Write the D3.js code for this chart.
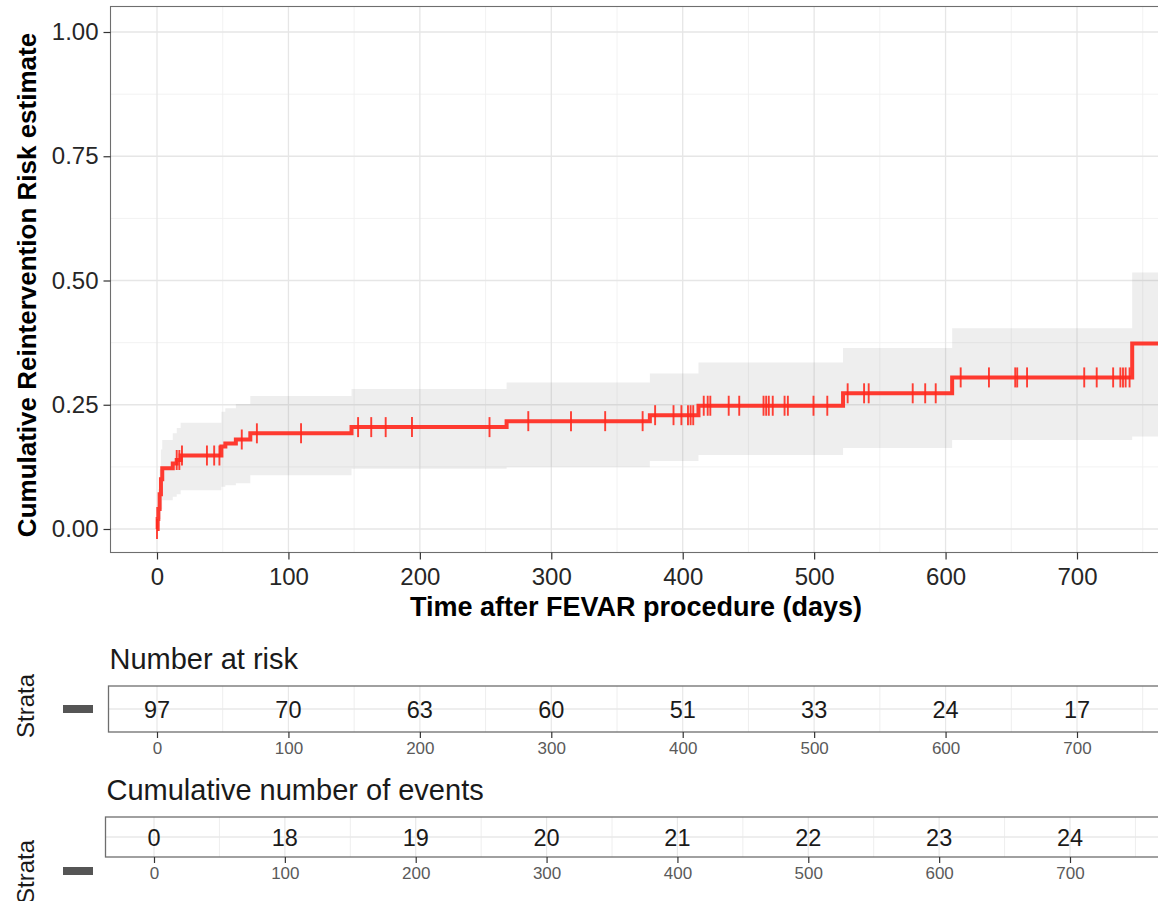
<!DOCTYPE html>
<html>
<head>
<meta charset="utf-8">
<script src="https://cdn.jsdelivr.net/npm/d3@7"></script>
<style>
  body { margin: 0; background: #fff; }
  svg { display: block; font-family: "Liberation Sans", Arial, Helvetica, sans-serif; }
</style>
</head>
<body>
<script>
const width = 1158;
const height = 901;

// Kaplan-Meier steps (cumulative risk = 1 - S)
const stepDays  = [0, 0.5, 1, 2, 3, 4, 12, 15, 18, 49, 52, 60, 71, 148, 266, 375, 412, 522, 605, 742];
const riskEst   = [0, 0.02, 0.04, 0.07, 0.10, 0.122, 0.132, 0.139, 0.148, 0.166, 0.172, 0.180, 0.1925, 0.205, 0.217, 0.229, 0.248, 0.273, 0.305, 0.373];
const riskLower = [0, 0.0, 0.005, 0.02, 0.04, 0.058, 0.065, 0.07, 0.078, 0.085, 0.088, 0.092, 0.108, 0.121, 0.124, 0.137, 0.149, 0.163, 0.179, 0.186];
const riskUpper = [0, 0.05, 0.08, 0.12, 0.16, 0.179, 0.1925, 0.203, 0.214, 0.236, 0.243, 0.2515, 0.2676, 0.2817, 0.295, 0.313, 0.335, 0.364, 0.404, 0.516];

// censored observations (days)
const censorDays = [0, 15, 17, 19, 38, 43.5, 47.5, 64.5, 76, 109.6, 153, 163, 174, 194, 253, 282.5, 315, 341, 369.5,
  379, 393, 399, 404, 406, 408, 416, 419, 421, 435, 443, 461.5, 463.5, 465.5, 468.5, 477.5, 480, 499.5, 510,
  525.5, 538, 541.5, 575, 584.5, 592.5, 611.5, 633, 653, 654.5, 662, 705.5, 715, 727.5, 733, 735, 737, 740];

const tableTimes = [0, 100, 200, 300, 400, 500, 600, 700];
const nAtRisk = [97, 70, 63, 60, 51, 33, 24, 17];
const cumEvents = [0, 18, 19, 20, 21, 22, 23, 24];

const yTicks = [0, 0.25, 0.5, 0.75, 1];
const yMinor = [0.125, 0.375, 0.625, 0.875];
const xMinor = [50, 150, 250, 350, 450, 550, 650, 750];

const red = "#ff2a1f";
const panel = {left: 110.5, top: 6.5, right: 1162, bottom: 552.5};

const x = d3.scaleLinear().domain([0, 700]).range([157, 1077]);
const y = d3.scaleLinear().domain([0, 1]).range([529, 32]);

const svg = d3.select('body').append('svg').attr('width', width).attr('height', height);

svg.append('clipPath').attr('id', 'clipMain')
  .append('rect').attr('x', panel.left).attr('y', panel.top)
  .attr('width', panel.right - panel.left).attr('height', panel.bottom - panel.top);

const grid = svg.append('g').attr('clip-path', 'url(#clipMain)');
grid.selectAll('.xmin').data(xMinor).enter().append('line')
  .attr('x1', d => x(d)).attr('x2', d => x(d)).attr('y1', panel.top).attr('y2', panel.bottom)
  .attr('stroke', '#f1f1f1').attr('stroke-width', 0.9);
grid.selectAll('.ymin').data(yMinor).enter().append('line')
  .attr('x1', panel.left).attr('x2', panel.right).attr('y1', d => y(d)).attr('y2', d => y(d))
  .attr('stroke', '#f1f1f1').attr('stroke-width', 0.9);
grid.selectAll('.xmaj').data(tableTimes).enter().append('line')
  .attr('x1', d => x(d)).attr('x2', d => x(d)).attr('y1', panel.top).attr('y2', panel.bottom)
  .attr('stroke', '#e6e6e6').attr('stroke-width', 1.3);
grid.selectAll('.ymaj').data(yTicks).enter().append('line')
  .attr('x1', panel.left).attr('x2', panel.right).attr('y1', d => y(d)).attr('y2', d => y(d))
  .attr('stroke', '#e6e6e6').attr('stroke-width', 1.3);

// survival steps, extended to the right edge of the panel
const steps = stepDays.map((t, i) => ({t: t, est: riskEst[i], lo: riskLower[i], hi: riskUpper[i]}));
const last = steps[steps.length - 1];
steps.push({t: x.invert(panel.right), est: last.est, lo: last.lo, hi: last.hi});

const plot = svg.append('g').attr('clip-path', 'url(#clipMain)');

const area = d3.area().x(d => x(d.t)).y0(d => y(d.lo)).y1(d => y(d.hi)).curve(d3.curveStepAfter);
plot.append('path').datum(steps).attr('d', area)
  .attr('fill', '#8a8a8a').attr('fill-opacity', 0.15);

const line = d3.line().x(d => x(d.t)).y(d => y(d.est)).curve(d3.curveStepAfter);
plot.append('path').datum(steps).attr('d', line)
  .attr('fill', 'none').attr('stroke', red).attr('stroke-width', 4).attr('stroke-opacity', 0.92);

const bis = d3.bisector(d => d).right;
const censorPts = censorDays.map(t => ({t: t, est: riskEst[Math.max(0, bis(stepDays, t) - 1)]}));
plot.selectAll('.cens').data(censorPts).enter().append('line')
  .attr('x1', d => x(d.t)).attr('x2', d => x(d.t))
  .attr('y1', d => y(d.est) - 10).attr('y2', d => y(d.est) + 10)
  .attr('stroke', red).attr('stroke-width', 1.9).attr('stroke-opacity', 0.9);

svg.append('rect').attr('x', panel.left).attr('y', panel.top)
  .attr('width', panel.right - panel.left).attr('height', panel.bottom - panel.top)
  .attr('fill', 'none').attr('stroke', '#6e6e6e').attr('stroke-width', 1.1);

// axes
const yAxis = svg.append('g').attr('transform', `translate(${panel.left},0)`)
  .call(d3.axisLeft(y).tickValues(yTicks).tickFormat(d3.format('.2f')).tickSize(7).tickPadding(5));
const xAxis = svg.append('g').attr('transform', `translate(0,${panel.bottom})`)
  .call(d3.axisBottom(x).tickValues(tableTimes).tickSize(7).tickPadding(8));
[yAxis, xAxis].forEach(a => {
  a.select('.domain').remove();
  a.selectAll('.tick line').attr('stroke', '#333').attr('stroke-width', 1.2);
  a.selectAll('.tick text').attr('fill', '#262626').style('font-size', '24px')
    .style('font-family', '"Liberation Sans", Arial, sans-serif');
});

svg.append('text').attr('x', 636).attr('y', 616)
  .attr('text-anchor', 'middle').style('font-size', '27px').style('font-weight', 'bold')
  .text('Time after FEVAR procedure (days)');
svg.append('text').attr('transform', 'translate(36,285) rotate(-90)')
  .attr('text-anchor', 'middle').style('font-size', '26px').style('font-weight', 'bold')
  .text('Cumulative Reintervention Risk estimate');

// risk tables
function drawTable(o) {
  const g = svg.append('g');
  const xs = d3.scaleLinear().domain([0, 700]).range(o.range);
  const mid = (o.top + o.bottom) / 2;
  g.append('text').attr('x', o.left + 1).attr('y', o.titleY)
    .style('font-size', '29px').attr('fill', '#1a1a1a').text(o.title);
  g.selectAll('.gmin').data(xMinor).enter().append('line')
    .attr('x1', d => xs(d)).attr('x2', d => xs(d)).attr('y1', o.top).attr('y2', o.bottom)
    .attr('stroke', '#eeeeee').attr('stroke-width', 1);
  g.selectAll('.gmaj').data(tableTimes).enter().append('line')
    .attr('x1', d => xs(d)).attr('x2', d => xs(d)).attr('y1', o.top).attr('y2', o.bottom)
    .attr('stroke', '#e8e8e8').attr('stroke-width', 1.2);
  g.append('line').attr('x1', o.left).attr('x2', panel.right).attr('y1', mid).attr('y2', mid)
    .attr('stroke', '#e8e8e8').attr('stroke-width', 1.5);
  g.append('rect').attr('x', o.left).attr('y', o.top)
    .attr('width', panel.right - o.left).attr('height', o.bottom - o.top)
    .attr('fill', 'none').attr('stroke', '#6e6e6e').attr('stroke-width', 1.3);
  g.selectAll('.num').data(o.values).enter().append('text')
    .attr('x', (d, i) => xs(tableTimes[i])).attr('y', mid + 8.5)
    .attr('text-anchor', 'middle').style('font-size', '23.5px').attr('fill', '#1a1a1a')
    .text(d => d);
  const ax = g.append('g').attr('transform', `translate(0,${o.bottom})`)
    .call(d3.axisBottom(xs).tickValues(tableTimes).tickSize(6).tickPadding(4));
  ax.select('.domain').remove();
  ax.selectAll('.tick line').attr('stroke', '#333').attr('stroke-width', 1.2);
  ax.selectAll('.tick text').attr('fill', '#5a5a5a').style('font-size', '17px')
    .style('font-family', '"Liberation Sans", Arial, sans-serif');
  g.append('text').attr('transform', `translate(34,${o.strataY}) rotate(-90)`)
    .attr('text-anchor', 'middle').style('font-size', '24px').attr('fill', '#1a1a1a').text('Strata');
  g.append('rect').attr('x', 63).attr('y', o.barY - 4).attr('width', 30).attr('height', 8)
    .attr('fill', '#555');
}

drawTable({title: 'Number at risk', titleY: 669, top: 686, bottom: 732, left: 108.5,
  range: [157, 1077], values: nAtRisk, strataY: 706, barY: 709});
drawTable({title: 'Cumulative number of events', titleY: 800, top: 817, bottom: 857, left: 105.5,
  range: [154, 1070], values: cumEvents, strataY: 872, barY: 871});
</script>
</body>
</html>
